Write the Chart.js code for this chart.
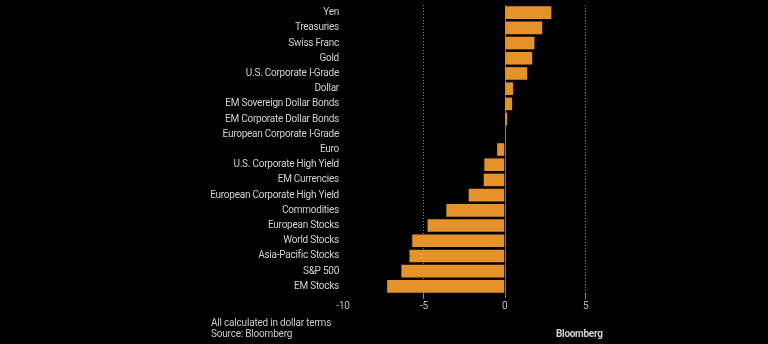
<!DOCTYPE html>
<html><head><meta charset="utf-8">
<script src="https://cdn.jsdelivr.net/npm/chart.js@4"></script>
<style>
html,body{margin:0;padding:0;background:#000;}
#wrap{position:relative;width:768px;height:344px;}
canvas{display:block;}
.note{position:absolute;left:211px;color:#c8c8c8;font:10px Roboto,sans-serif;letter-spacing:-0.2px;line-height:11px;}
#brand{position:absolute;left:556px;top:328px;color:#d0d0d0;font:bold 10px Roboto,sans-serif;letter-spacing:-0.3px;line-height:11px;}
</style></head>
<body><div id="wrap"><canvas id="c" width="768" height="344"></canvas>
<div class="note" style="top:317px">All calculated in dollar terms</div>
<div class="note" style="top:328px">Source: Bloomberg</div>
<div id="brand">Bloomberg</div>
</div>
<script>
const categories = ["Yen","Treasuries","Swiss Franc","Gold","U.S. Corporate I-Grade","Dollar","EM Sovereign Dollar Bonds","EM Corporate Dollar Bonds","European Corporate I-Grade","Euro","U.S. Corporate High Yield","EM Currencies","European Corporate High Yield","Commodities","European Stocks","World Stocks","Asia-Pacific Stocks","S&P 500","EM Stocks"];
const returns = [2.88,2.32,1.84,1.70,1.39,0.52,0.46,0.15,0.05,-0.47,-1.26,-1.30,-2.23,-3.61,-4.77,-5.72,-5.89,-6.39,-7.27];
const xTicks = [-10,-5,0,5];

const narrow = {
  id:'narrow',
  beforeDraw(chart){ try{ chart.ctx.letterSpacing='-0.25px'; }catch(e){} }
};
const zeroLine = {
  id:'zeroLine',
  beforeDatasetsDraw(chart){
    const x = chart.scales.x.getPixelForValue(0);
    const a = chart.chartArea, ctx = chart.ctx;
    ctx.save(); ctx.strokeStyle='#777'; ctx.lineWidth=1;
    ctx.beginPath(); ctx.moveTo(Math.round(x)+0.5,a.top); ctx.lineTo(Math.round(x)+0.5,a.bottom+4); ctx.stroke();
    ctx.restore();
  }
};
const font = {family:'Roboto,sans-serif', size:10};
new Chart(document.getElementById('c'),{
  type:'bar',
  data:{labels:categories,datasets:[{data:returns,backgroundColor:'#E6922A',borderWidth:0,barPercentage:0.83,categoryPercentage:1}]},
  options:{
    indexAxis:'y',responsive:false,animation:false,
    layout:{padding:{top:5,right:142,bottom:0,left:0}},
    plugins:{legend:{display:false},tooltip:{enabled:false}},
    scales:{
      x:{min:-10,max:7.5,
        afterBuildTicks(s){s.ticks=xTicks.map(v=>({value:v}));},
        afterFit(s){s.height=50;s.paddingLeft=0;s.paddingRight=0;},
        ticks:{color:'#bdbdbd',font:font,padding:1,autoSkip:false,maxRotation:0},
        grid:{color:c=>(c.tick&&(c.tick.value===-5||c.tick.value===5))?'#8a8a8a':'rgba(0,0,0,0)',lineWidth:1,drawTicks:true,tickLength:5},
        border:{display:false,dash:[1,2]}
      },
      y:{
        afterFit(s){s.width=343;s.paddingTop=0;s.paddingBottom=0;},
        ticks:{color:'#d0d0d0',font:font,padding:4,autoSkip:false},
        grid:{display:false,drawTicks:false,tickLength:0},border:{display:false}
      }
    }
  },
  plugins:[narrow,zeroLine]
});
</script></body></html>
